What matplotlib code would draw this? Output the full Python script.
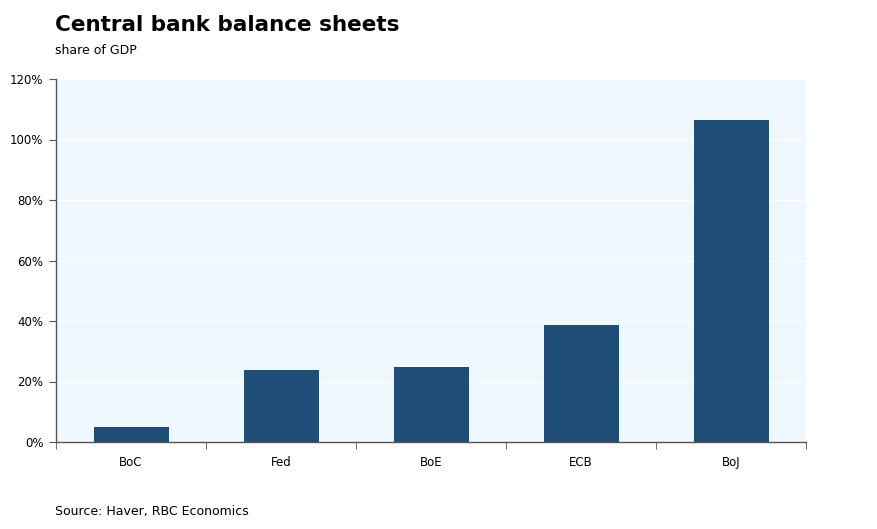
import matplotlib.pyplot as plt
import numpy as np
from matplotlib.ticker import FuncFormatter, FixedLocator

# data
banks = ["BoC", "Fed", "BoE", "ECB", "BoJ"]
share_of_gdp = [5.0, 23.8, 24.8, 38.7, 106.4]
y_ticks = [0, 20, 40, 60, 80, 100, 120]

BAR_COLOR = "#1f4e79"
BG_COLOR = "#eff7ff"

plt.rcParams['font.family'] = ['DejaVu Sans']

fig = plt.figure(figsize=(8.78, 5.29), dpi=100)
ax = fig.add_axes([56 / 878, 1 - 442 / 529, 750 / 878, 363 / 529])
ax.set_facecolor(BG_COLOR)

x = np.arange(len(banks))
ax.bar(x, share_of_gdp, width=0.5, color=BAR_COLOR, zorder=3)

ax.set_xlim(-0.5, len(banks) - 0.5)
ax.set_ylim(0, 120)
ax.set_yticks(y_ticks)
ax.yaxis.set_major_formatter(FuncFormatter(lambda v, p: f"{v:.0f}%"))
ax.grid(axis='y', color='white', linewidth=0.8, zorder=1)

# category labels centred, tick marks at the boundaries
ax.set_xticks(x)
ax.set_xticklabels(banks)
ax.tick_params(axis='x', length=0, pad=10, labelsize=8.5)
ax.xaxis.set_minor_locator(FixedLocator(np.arange(len(banks) + 1) - 0.5))
ax.tick_params(axis='x', which='minor', length=5, color='#555555', direction='out')
ax.tick_params(axis='y', length=5, color='#555555', labelsize=8.5, pad=4)

for side in ['top', 'right']:
    ax.spines[side].set_visible(False)
for side in ['left', 'bottom']:
    ax.spines[side].set_color('#555555')
    ax.spines[side].set_linewidth(1)

fig.text(55 / 878, 1 - 25 / 529, "Central bank balance sheets", fontsize=15.5,
         fontweight='bold', va='center', ha='left')
fig.text(55 / 878, 1 - 51 / 529, "share of GDP", fontsize=9, va='center', ha='left')
fig.text(55 / 878, 1 - 511 / 529, "Source: Haver, RBC Economics", fontsize=9,
         va='center', ha='left')

fig.savefig("out.png", dpi=100)
